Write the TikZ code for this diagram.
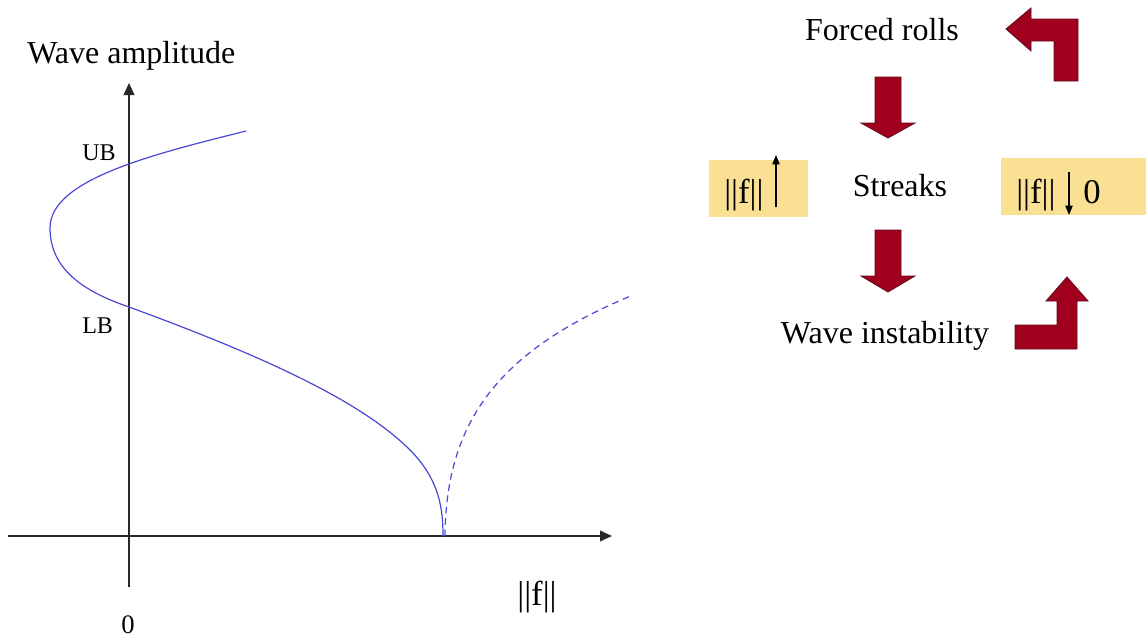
\documentclass[tikz,border=0pt]{standalone}
\usepackage{fontspec}
\setmainfont{Liberation Serif}
\usetikzlibrary{arrows.meta}
\definecolor{curveblue}{RGB}{72,72,215}
\definecolor{boxyellow}{RGB}{250,224,146}
\definecolor{arrowred}{RGB}{160,0,30}
\definecolor{arrowedge}{RGB}{95,10,25}
\definecolor{axisgray}{RGB}{40,40,40}
\tikzset{
  big/.style={font=\fontsize{24}{28}\selectfont, inner sep=0pt},
  mid/.style={font=\fontsize{26}{30}\selectfont, inner sep=0pt},
  tick/.style={font=\fontsize{18}{22}\selectfont, inner sep=0pt},
  zerolbl/.style={font=\fontsize{20}{24}\selectfont, inner sep=0pt},
  axis/.style={draw=axisgray, line width=1.3pt, -{Triangle[length=9pt,width=8pt]}},
  curve/.style={draw=curveblue, line width=0.9pt},
  ybox/.style={fill=boxyellow, inner sep=0pt},
  blockarrow/.style={fill=arrowred, draw=arrowedge, line width=0.6pt, line join=miter},
  thinarrow/.style={draw=black, line width=0.9pt, -{Triangle[length=7pt,width=5.5pt]}}
}
\begin{document}
\begin{tikzpicture}[x=0.75pt,y=-0.75pt]
\useasboundingbox (0,0) rectangle (1146,640);

% ---- left plot ----
\coordinate (xs) at (8,536);
\coordinate (xe) at (612,536);
\coordinate (ys) at (129,587);
\coordinate (ye) at (129,83);
\draw[axis] (xs) -- (xe);
\draw[axis] (ys) -- (ye);

\node[big, anchor=base west] (ylab) at (27,63) {Wave amplitude};
\node[tick, anchor=base west] (ub) at (82,160) {UB};
\node[tick, anchor=base west] (lb) at (82,333) {LB};
\node[zerolbl, anchor=base] (zero) at (128,633) {0};
\node[mid, anchor=base] (xlab) at (537,605) {||f||};

\coordinate (c0) at (246,131);
\coordinate (c1) at (50,228);
\coordinate (c2) at (129,307);
\coordinate (c3) at (410,450);
\coordinate (c4) at (443,536);
\coordinate (d0) at (445,536);
\coordinate (d1) at (633,295);
\draw[curve] (c0) .. controls (150,155) and (50,180) .. (c1)
  .. controls (50,270) and (85,292) .. (c2)
  .. controls (260,355) and (360,400) .. (c3)
  .. controls (440,480) and (443,510) .. (c4);
\draw[curve, dash pattern=on 5pt off 3.5pt] (d0) .. controls (446,420) and (500,350) .. (d1);

% ---- right cycle ----
\node[big, anchor=base] (forced) at (882,40) {Forced rolls};
\node[big, anchor=base] (streaks) at (900,196) {Streaks};
\node[big, anchor=base] (wave) at (885,343) {Wave instability};

\node[ybox, minimum width=74.25pt, minimum height=42.75pt] (lbox) at (758.5,188.5) {};
\node[ybox, minimum width=109pt, minimum height=42.75pt] (rbox) at (1073.5,186.5) {};
\node[mid, anchor=base west] (lf) at (724,203) {||f||};
\node[mid, anchor=base west] (rf) at (1016,203) {||f||};
\node[mid, anchor=base west] (rz) at (1083,203) {0};
\coordinate (lupS) at (776,207);
\coordinate (lupE) at (776,155);
\coordinate (rdnS) at (1069,172);
\coordinate (rdnE) at (1069,215);
\draw[thinarrow] (lupS) -- (lupE);
\draw[thinarrow] (rdnS) -- (rdnE);

% down arrows
\filldraw[blockarrow] (875,77) -- (901,77) -- (901,123) -- (915,123) -- (888,138)
  -- (861,123) -- (875,123) -- cycle;
\filldraw[blockarrow] (875,230) -- (901,230) -- (901,276) -- (915,276) -- (888,292)
  -- (861,276) -- (875,276) -- cycle;
% bent arrow top right (up then left)
\filldraw[blockarrow] (1078,81) -- (1078,19) -- (1031,19) -- (1031,8) -- (1006,29)
  -- (1031,51) -- (1031,41) -- (1054,41) -- (1054,81) -- cycle;
% bent arrow bottom right (right then up)
\filldraw[blockarrow] (1015,349) -- (1077,349) -- (1077,301) -- (1088,301) -- (1067,277)
  -- (1046,301) -- (1057,301) -- (1057,325) -- (1015,325) -- cycle;
\end{tikzpicture}
\end{document}
